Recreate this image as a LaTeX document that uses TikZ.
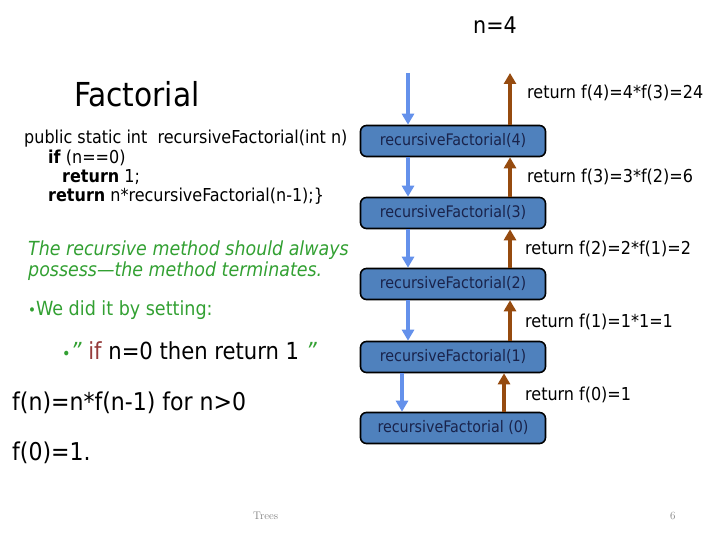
\documentclass[tikz,border=0pt]{standalone}
\usepackage{fontspec}
\setmainfont{DejaVu Sans Condensed}
\usepackage{tikz}
\usetikzlibrary{arrows.meta, calc}
\definecolor{callB}{RGB}{100,145,235}
\definecolor{retB}{RGB}{150,75,15}
\definecolor{boxB}{RGB}{79,129,189}
\definecolor{boxT}{RGB}{25,35,75}
\definecolor{noteG}{RGB}{50,160,50}
\definecolor{kwR}{RGB}{150,60,60}

\begin{document}
\begin{tikzpicture}[x=1pt, y=-1pt,
  every node/.style={inner sep=0pt},
  txt/.style={anchor=west, font=\fontsize{17.8}{21}\selectfont},
  callbox/.style={draw=black, line width=1.6pt, fill=boxB, rounded corners=6pt,
    minimum width=185pt, minimum height=31pt, text=boxT,
    font=\fontsize{15.9}{19}\selectfont},
  callarrow/.style={callB, line width=4pt, -{Triangle[width=12pt,length=11pt]}},
  retarrow/.style={retB, line width=4pt, -{Triangle[width=12pt,length=11pt]}}]
\useasboundingbox (0,0) rectangle (720,540);
% heading
\node[font=\fontsize{23}{27}\selectfont] (nfour) at (495,25) {n=4};
\node[anchor=west, font=\fontsize{33}{38}\selectfont] (title) at (74,94) {Factorial};
% code
\node[txt] (code1) at (24,139) {public static int\ \ recursiveFactorial(int n)};
\node[txt] (code2) at (48,158) {\textbf{if} (n==0)};
\node[txt] (code3) at (62,177) {\textbf{return} 1;};
\node[txt] (code4) at (48,196) {\textbf{return} n*recursiveFactorial(n-1);\}};
% notes
\node[txt, noteG, font=\fontsize{19.4}{23}\selectfont\itshape] (note1) at (28,250) {The recursive method should always};
\node[txt, noteG, font=\fontsize{19.4}{23}\selectfont\itshape] (note2) at (28,271) {possess—the method terminates.};
\node[txt, noteG, font=\fontsize{19.5}{23}\selectfont] (note3) at (28,310) {{\fontsize{15}{17}\selectfont•}We did it by setting:};
\node[txt, font=\fontsize{23.5}{28}\selectfont] (note4) at (62,351) {\textcolor{noteG}{{\fontsize{16}{18}\selectfont•}\itshape ”} \textcolor{kwR}{if} n=0 then return 1 \textcolor{noteG}{\itshape ”}};
\node[txt, font=\fontsize{24.5}{29}\selectfont] (rec1) at (12,403) {f(n)=n*f(n-1) for n>0};
\node[txt, font=\fontsize{24.5}{29}\selectfont] (rec2) at (12,453) {f(0)=1.};
% call boxes
\node[callbox] (b4) at (453,141) {recursiveFactorial(4)};
\node[callbox] (b3) at (453,213) {recursiveFactorial(3)};
\node[callbox] (b2) at (453,284) {recursiveFactorial(2)};
\node[callbox] (b1) at (453,357) {recursiveFactorial(1)};
\node[callbox] (b0) at (453,428) {recursiveFactorial (0)};
\coordinate (cl) at (408,73);
\coordinate (rl) at (510,73);
\coordinate (cl0) at (402,0);
\coordinate (rl0) at (504,0);
% calls going down
\draw[callarrow] (cl) -- (b4.north -| cl);
\draw[callarrow] (b4.south -| cl) -- (b3.north -| cl);
\draw[callarrow] (b3.south -| cl) -- (b2.north -| cl);
\draw[callarrow] (b2.south -| cl) -- (b1.north -| cl);
\draw[callarrow] (b1.south -| cl0) -- (b0.north -| cl0);
% returns going up
\draw[retarrow] (b4.north -| rl) -- (rl);
\draw[retarrow] (b3.north -| rl) -- (b4.south -| rl);
\draw[retarrow] (b2.north -| rl) -- (b3.south -| rl);
\draw[retarrow] (b1.north -| rl) -- (b2.south -| rl);
\draw[retarrow] (b0.north -| rl0) -- (b1.south -| rl0);
% return values
\node[txt] (r4) at (527,93) {return f(4)=4*f(3)=24};
\node[txt] (r3) at (527,177) {return f(3)=3*f(2)=6};
\node[txt] (r2) at (525,249) {return f(2)=2*f(1)=2};
\node[txt] (r1) at (525,322) {return f(1)=1*1=1};
\node[txt] (r0) at (525,395) {return f(0)=1};
% footer
\node[anchor=west, gray, font=\fontfamily{lmr}\fontsize{11}{13}\selectfont] (foot) at (253,516) {Trees};
\node[anchor=west, gray, font=\fontfamily{lmr}\fontsize{11}{13}\selectfont] (page) at (670,516) {6};
\end{tikzpicture}
\end{document}
